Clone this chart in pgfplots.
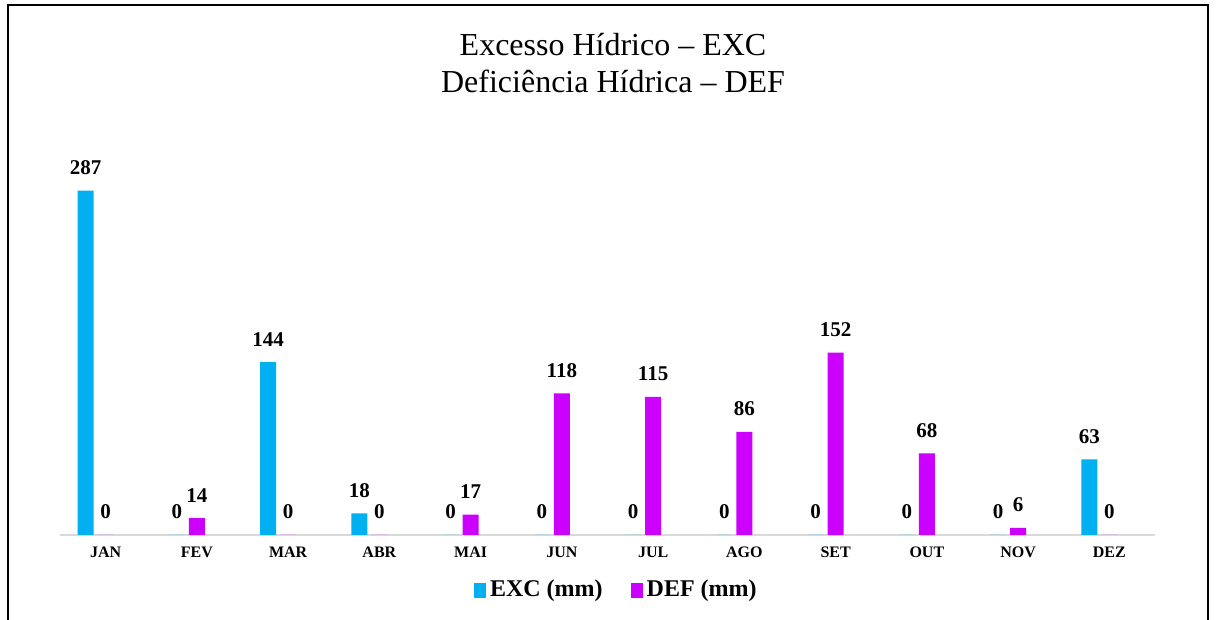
\documentclass[border=0pt]{standalone}
\usepackage{fontspec}
\setmainfont{Liberation Serif}
\usepackage{pgfplots}
\pgfplotsset{compat=1.18}
\definecolor{excc}{HTML}{00B0F0}
\definecolor{defc}{HTML}{CC00FF}
\definecolor{axgray}{HTML}{D9D9D9}
\begin{document}
\begin{tikzpicture}
\useasboundingbox (0pt,0pt) rectangle (608pt,310pt);
\draw[line width=0.8pt] (4pt,-5pt) -- (4pt,307.5pt) -- (604pt,307.5pt) -- (604pt,-5pt);
\node[font=\fontsize{16}{18.5}\selectfont, align=center] at (306.5pt,278.25pt) {Excesso Hídrico -- EXC\\Deficiência Hídrica -- DEF};
\begin{axis}[
  at={(30pt,42.5pt)}, anchor=south west,
  width=547.5pt, height=180pt, scale only axis,
  xmin=-0.5, xmax=11.5, ymin=0, ymax=300,
  axis y line=none, axis x line*=bottom,
  x axis line style={draw=axgray, line width=1pt, -},
  xtick=data, xtick style={draw=none},
  xticklabels={JAN,FEV,MAR,ABR,MAI,JUN,JUL,AGO,SET,OUT,NOV,DEZ},
  xticklabel style={font=\bfseries\fontsize{8}{9}\selectfont, yshift=2pt},
  ybar, bar width=8pt,
  clip=false,
  /pgf/number format/assume math mode=true,
  nodes near coords,
  every node near coord/.append style={font=\bfseries\fontsize{10.5}{12}\selectfont, yshift=4.5pt, text=black},
  legend style={at={(0.509,-0.153)}, anchor=center, draw=none, legend columns=2,
    font=\bfseries\fontsize{12}{14}\selectfont,
    /tikz/every even column/.append style={column sep=12pt}},
  legend image code/.code={\fill[#1] (0pt,-3.75pt) rectangle (6pt,3.75pt);},
]
\addplot[fill=excc, draw=none, bar shift=-10pt] coordinates {
(0,287) (1,0) (2,144) (3,18) (4,0) (5,0) (6,0) (7,0) (8,0) (9,0) (10,0) (11,63)};
\addplot[fill=defc, draw=none, bar shift=0pt] coordinates {
(0,0) (1,14) (2,0) (3,0) (4,17) (5,118) (6,115) (7,86) (8,152) (9,68) (10,6) (11,0)};
\legend{EXC (mm), DEF (mm)}
\end{axis}
\end{tikzpicture}
\end{document}
